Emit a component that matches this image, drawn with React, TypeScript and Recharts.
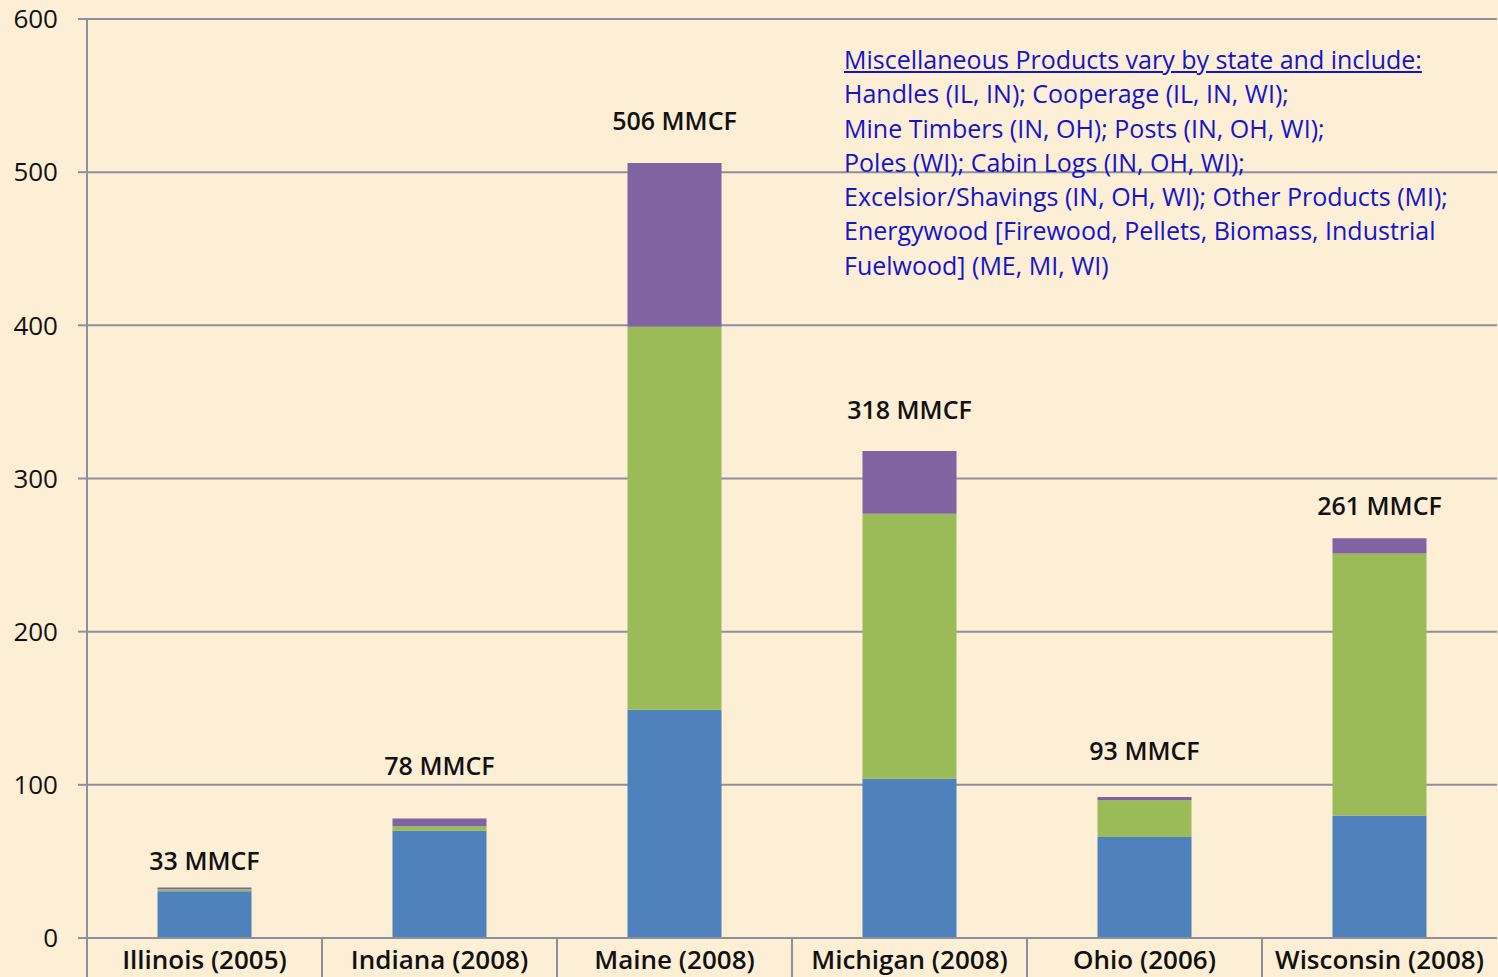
import { Bar, BarChart, CartesianGrid, LabelList, XAxis, YAxis } from "recharts";

const states = [
  "Illinois (2005)",
  "Indiana (2008)",
  "Maine (2008)",
  "Michigan (2008)",
  "Ohio (2006)",
  "Wisconsin (2008)",
];
const blueValues = [30.5, 70, 149, 104, 66, 80];
const greenValues = [1.3, 3, 250, 173, 24, 171];
const purpleValues = [1.2, 5, 107, 41, 2, 10];
const totalLabels = ["33 MMCF", "78 MMCF", "506 MMCF", "318 MMCF", "93 MMCF", "261 MMCF"];
const yTicks = [0, 100, 200, 300, 400, 500, 600];

const noteTitle = "Miscellaneous Products vary by state and include:";
const noteLines = [
  "Handles (IL, IN); Cooperage (IL, IN, WI);",
  "Mine Timbers (IN, OH); Posts (IN, OH, WI);",
  "Poles (WI); Cabin Logs (IN, OH, WI);",
  "Excelsior/Shavings (IN, OH, WI); Other Products (MI);",
  "Energywood [Firewood, Pellets, Biomass, Industrial",
  "Fuelwood] (ME, MI, WI)",
];

// label distance above each bar top (text boxes were placed by hand)
const labelLift = [26, 53, 42, 41, 46, 32];

const W = 1498;
const H = 977;
const LEFT = 87;
const RIGHT = 1;
const AXIS_H = 39;
const FONT = "'Open Sans', Lato, sans-serif";
const GRID = "#8e8f9c";
const catWidth = (W - LEFT - RIGHT) / states.length;

const data = states.map((name, i) => ({
  name,
  blue: blueValues[i],
  green: greenValues[i],
  purple: purpleValues[i],
}));

function StateTick(props: any) {
  const { x, y, payload } = props;
  return (
    <g>
      <line x1={x - catWidth / 2} x2={x - catWidth / 2} y1={y} y2={y + AXIS_H} stroke={GRID} strokeWidth={2} />
      <text x={x} y={y + 31} textAnchor="middle" fontFamily={FONT} fontSize={26} fontWeight={600} fill="#111">
        {payload.value}
      </text>
    </g>
  );
}

function TotalLabel(props: any) {
  const { x, y, width, index } = props;
  return (
    <text
      x={x + width / 2}
      y={y - labelLift[index] + 9}
      textAnchor="middle"
      fontFamily={FONT}
      fontSize={25}
      fontWeight={600}
      fill="#111"
    >
      {totalLabels[index]}
    </text>
  );
}

export default function App() {
  return (
    <div style={{ position: "fixed", left: 0, top: 0, width: W, height: H, background: "#fcefd6" }}>
      <BarChart
        width={W}
        height={H}
        data={data}
        margin={{ top: 19, right: RIGHT, bottom: 0, left: 0 }}
        barCategoryGap="30%"
      >
        <CartesianGrid vertical={false} stroke={GRID} strokeWidth={2} />
        <XAxis
          dataKey="name"
          height={AXIS_H}
          axisLine={{ stroke: GRID, strokeWidth: 2 }}
          tickLine={false}
          tickSize={0}
          tickMargin={0}
          interval={0}
          tick={<StateTick />}
        />
        <YAxis
          width={LEFT}
          domain={[0, 600]}
          ticks={yTicks}
          axisLine={{ stroke: GRID, strokeWidth: 2 }}
          tickLine={{ stroke: GRID, strokeWidth: 2 }}
          tickSize={9}
          tickMargin={20}
          tick={{ fontFamily: FONT, fontSize: 26, fill: "#111", fontWeight: 500 }}
        />
        <Bar dataKey="blue" stackId="a" fill="#4f81bd" isAnimationActive={false} />
        <Bar dataKey="green" stackId="a" fill="#9bbb59" isAnimationActive={false} />
        <Bar dataKey="purple" stackId="a" fill="#8064a2" isAnimationActive={false}>
          <LabelList dataKey="purple" content={<TotalLabel />} />
        </Bar>
      </BarChart>
      <div
        style={{
          position: "absolute",
          left: 844,
          top: 42,
          fontFamily: FONT,
          fontSize: 25,
          lineHeight: "34.3px",
          color: "#1414c8",
          whiteSpace: "nowrap",
        }}
      >
        <div style={{ textDecoration: "underline" }}>{noteTitle}</div>
        {noteLines.map((line) => (
          <div key={line}>{line}</div>
        ))}
      </div>
    </div>
  );
}
